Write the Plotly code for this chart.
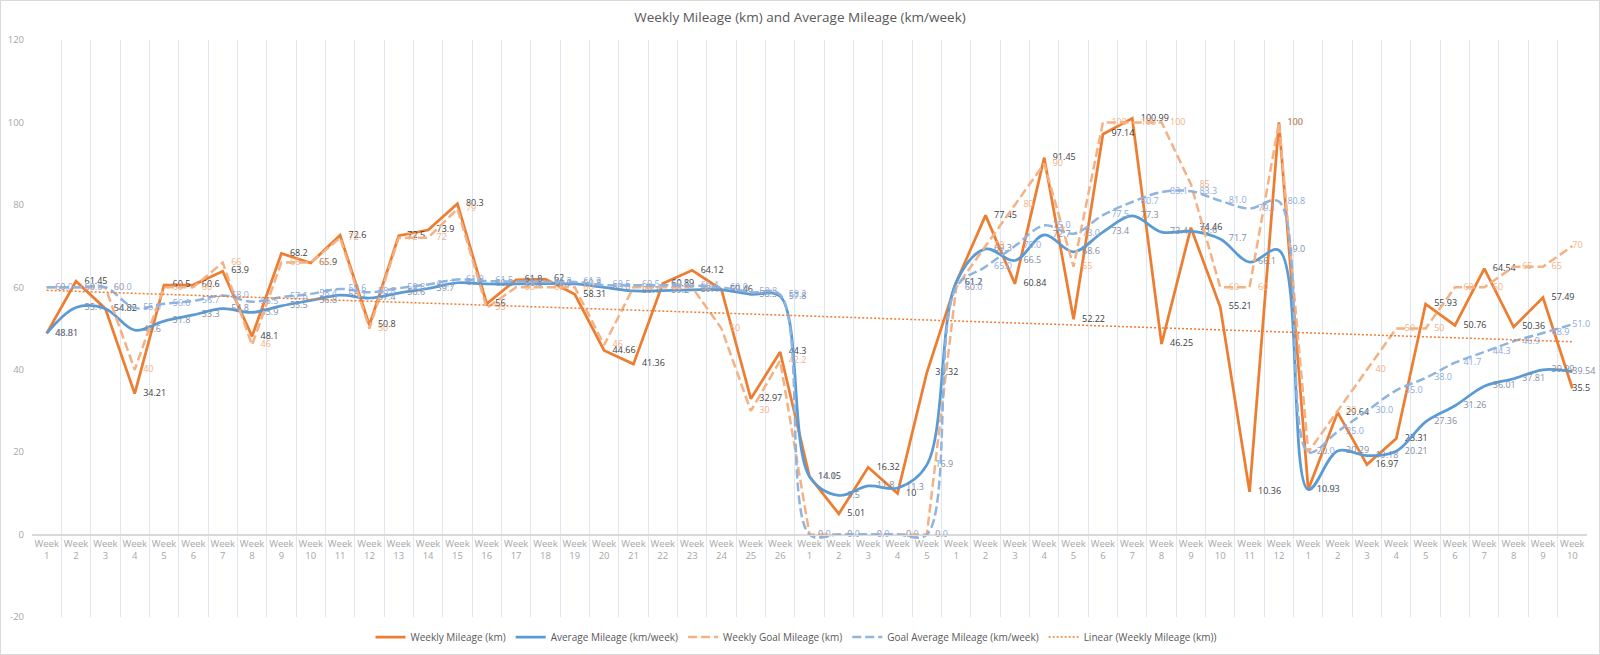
import numpy as np
import plotly.graph_objects as go

# ---------------- data ----------------
week_numbers = [1, 2, 3, 4, 5, 6, 7, 8, 9, 10, 11, 12, 13, 14, 15, 16, 17, 18, 19, 20, 21, 22, 23, 24, 25, 26,
                1, 2, 3, 4, 5,
                1, 2, 3, 4, 5, 6, 7, 8, 9, 10, 11, 12,
                1, 2, 3, 4, 5, 6, 7, 8, 9, 10]

weekly_mileage = [48.81, 61.45, 54.82, 34.21, 60.5, 60.6, 63.9, 48.1, 68.2, 65.9, 72.6, 50.8, 72.5,
                  73.9, 80.3, 56, 61.8, 62, 58.31, 44.66, 41.36, 60.89, 64.12, 59.46, 32.97, 44.3,
                  14.05, 5.01, 16.32, 10, 39.32,
                  61.2, 77.45, 60.84, 91.45, 52.22, 97.14, 100.99, 46.25, 74.46, 55.21, 10.36, 100,
                  10.93, 29.64, 16.97, 23.31, 55.93, 50.76, 64.54, 50.36, 57.49, 35.5]

average_mileage = [48.8, 55.1, 54.8, 49.6, 51.8, 53.3, 54.8, 53.9, 55.5, 56.8, 58.1, 57.4, 58.6,
                   59.7, 61.1, 60.8, 60.8, 60.9, 60.8, 60.0, 59.1, 59.2, 59.4, 59.4, 58.3, 57.8,
                   14.1, 9.5, 11.8, 11.3, 16.9,
                   61.2, 69.3, 66.5, 72.7, 68.6, 73.4, 77.3, 73.4, 73.6, 71.7, 66.1, 69.0,
                   10.93, 20.29, 19.18, 20.21, 27.36, 31.26, 36.01, 37.81, 39.99, 39.54]

weekly_goal = [60, 60, 60, 40, 60, 60, 66, 46, 66, 66, 72, 50, 72,
               72, 79, 55, 60, 60, 60, 46, 60, 60, 60, 50, 30, 42.2,
               0, 0, 0, 0, 0,
               60, 70, 80, 90, 65, 100, 100, 100, 85, 60, 60, 100,
               20, 30, 40, 50, 50, 60, 60, 65, 65, 70]

goal_average = [60.0, 60.0, 60.0, 55.0, 56.0, 56.7, 58.0, 56.5, 57.6, 58.4, 59.6, 58.8, 59.8,
                60.7, 61.9, 61.5, 61.4, 61.3, 61.3, 60.5, 60.5, 60.5, 60.4, 60.0, 58.8, 58.2,
                0.0, 0.0, 0.0, 0.0, 0.0,
                60.0, 65.0, 70.0, 75.0, 73.0, 77.5, 80.7, 83.1, 83.3, 81.0, 79.1, 80.8,
                20.0, 25.0, 30.0, 35.0, 38.0, 41.7, 44.3, 46.9, 48.9, 51.0]

y_ticks = [-20, 0, 20, 40, 60, 80, 100, 120]
y_tick_labels = ["-20", "0", "20", "40", "60", "80", "100", "120"]

# ---------------- build ----------------
x = list(range(len(week_numbers)))
tick_text = [f"Week<br>{n}" for n in week_numbers]

# Linear trendline (least squares on the weekly mileage, as in the spreadsheet)
slope, intercept = np.polyfit(np.array(x, dtype=float), np.array(weekly_mileage, dtype=float), 1)
trend = [slope * xi + intercept for xi in x]

FONT = "Open Sans"
W, H = 1600, 655
ML, MR, MT, MB = 32, 13, 40, 38

# invisible markers only to push the "right" data labels away from the points
# (the last point keeps its label close so it stays inside the chart, as in the original)
label_pad = [12] * (len(x) - 1) + [0]
ghost = dict(size=label_pad, color="rgba(0,0,0,0)", line=dict(width=0))

fig = go.Figure()

fig.add_trace(go.Scatter(
    x=x, y=weekly_mileage, name="Weekly Mileage (km)", mode="lines+markers+text",
    line=dict(color="#ED7D31", width=2.75), marker=ghost,
    text=[f"{v:g}" for v in weekly_mileage], textposition="middle right",
    textfont=dict(family=FONT, size=9, color="#404040"), cliponaxis=False,
))
fig.add_trace(go.Scatter(
    x=x, y=average_mileage, name="Average Mileage (km/week)", mode="lines+markers+text",
    line=dict(color="#5B9BD5", width=2.75, shape="spline", smoothing=1.0), marker=ghost,
    text=[f"{v:.1f}" for v in average_mileage[:43]] + [f"{v:.2f}" for v in average_mileage[43:]],
    textposition="middle right",
    textfont=dict(family=FONT, size=9, color="#7F8EA3"), cliponaxis=False,
))
fig.add_trace(go.Scatter(
    x=x, y=weekly_goal, name="Weekly Goal Mileage (km)", mode="lines+markers+text",
    line=dict(color="#F4B183", width=2.5, dash="9px,4px"), marker=ghost,
    text=[f"{v:g}" for v in weekly_goal], textposition="middle right",
    textfont=dict(family=FONT, size=9, color="#F4B183"), cliponaxis=False,
))
fig.add_trace(go.Scatter(
    x=x, y=goal_average, name="Goal Average Mileage (km/week)", mode="lines+markers+text",
    line=dict(color="#8FB4DE", width=2.5, dash="9px,4px", shape="spline", smoothing=1.0), marker=ghost,
    text=[f"{v:.1f}" for v in goal_average], textposition="middle right",
    textfont=dict(family=FONT, size=9, color="#8EAADB"), cliponaxis=False,
))
fig.add_trace(go.Scatter(
    x=x, y=trend, name="Linear (Weekly Mileage (km))", mode="lines",
    line=dict(color="#ED7D31", width=1.5, dash="2px,2px"),
))

pw = W - ML - MR
ph = H - MT - MB

fig.update_layout(
    width=W, height=H,
    margin=dict(l=ML, r=MR, t=MT, b=MB, autoexpand=False),
    paper_bgcolor="white", plot_bgcolor="white",
    font=dict(family=FONT, color="#595959"),
    hovermode=False,
    title=dict(text="Weekly Mileage (km) and Average Mileage (km/week)",
               x=0.5, xref="container", xanchor="center",
               y=1 - 17 / H, yref="container", yanchor="middle",
               font=dict(family=FONT, size=13.5, color="#595959")),
    showlegend=True,
    legend=dict(orientation="h", x=(796 - ML) / pw, xanchor="center",
                y=-(637 - (H - MB)) / ph, yanchor="middle",
                font=dict(family=FONT, size=10, color="#595959"),
                itemwidth=30, bgcolor="rgba(0,0,0,0)", traceorder="normal"),
    xaxis=dict(
        type="linear", range=[-0.5, len(x) - 0.5], autorange=False,
        tickmode="array", tickvals=x, ticktext=tick_text,
        tickfont=dict(family=FONT, size=9.5, color="#A6A6A6"),
        showgrid=False, zeroline=False, ticks="", automargin=False,
        minor=dict(tick0=-0.5, dtick=1, showgrid=True, gridcolor="#E0E6EF", gridwidth=1, ticks=""),
        anchor="free", position=20 / 140,
        showline=True, linecolor="#D9D9D9", linewidth=1,
    ),
    yaxis=dict(
        range=[-20, 120], autorange=False,
        tickmode="array", tickvals=y_ticks, ticktext=y_tick_labels,
        tickfont=dict(family=FONT, size=9.5, color="#A6A6A6"),
        showgrid=False, zeroline=True, zerolinecolor="#D9D9D9", zerolinewidth=1,
        showline=False, ticks="", automargin=False, ticklabelstandoff=7,
    ),
    shapes=[dict(type="rect", xref="paper", yref="paper",
                 x0=-(ML - 0.5) / pw, x1=1 + (MR - 0.5) / pw,
                 y0=-(MB - 0.5) / ph, y1=1 + (MT - 0.5) / ph,
                 line=dict(color="#D9D9D9", width=1), fillcolor="rgba(0,0,0,0)", layer="below")],
)

# remove the browser's default page margin so the 1600x655 figure fills the window exactly
fig.write_html("out.html",
               config={"displayModeBar": False, "staticPlot": True},
               post_script="document.body.style.margin='0';document.body.style.overflow='hidden';")
